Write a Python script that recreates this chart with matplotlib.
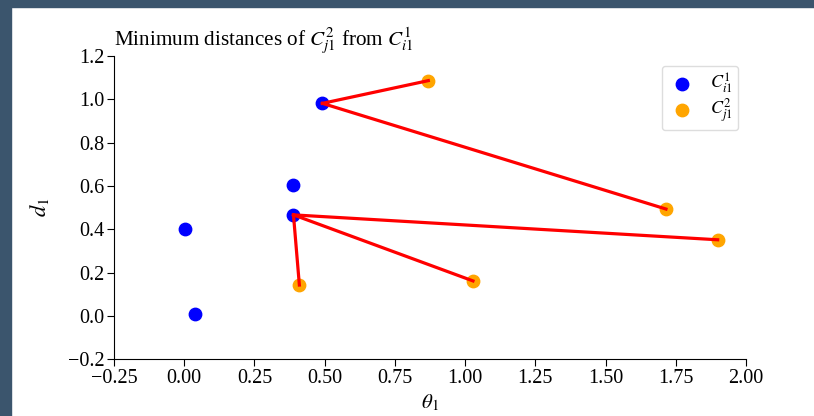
import matplotlib
matplotlib.use("Agg")
import matplotlib.pyplot as plt
from matplotlib.patches import Rectangle

# Datos: puntos de C_i1^1 (azul) y C_j1^2 (naranja)
c1_theta = [0.492, 0.389, 0.389, 0.004, 0.040]
c1_d = [0.982, 0.604, 0.467, 0.402, 0.008]

c2_theta = [0.869, 1.715, 1.899, 1.028, 0.410]
c2_d = [1.087, 0.494, 0.352, 0.162, 0.143]

# indice del punto de C1 mas cercano para cada punto de C2
nearest = [0, 0, 2, 2, 2]

x_ticks = [-0.25, 0.00, 0.25, 0.50, 0.75, 1.00, 1.25, 1.50, 1.75, 2.00]
y_ticks = [-0.2, 0.0, 0.2, 0.4, 0.6, 0.8, 1.0, 1.2]

plt.rcParams['font.family'] = ['Liberation Serif', 'DejaVu Serif']
plt.rcParams['mathtext.fontset'] = 'stix'
plt.rcParams['font.size'] = 14.5

fig = plt.figure(figsize=(8.14, 4.16), dpi=100)
ax = fig.add_axes([0.140, 0.1363, 0.7765, 0.7287])

# marco oscuro de la captura
fig.patches.append(Rectangle((0, 0), 11 / 814, 1, transform=fig.transFigure,
                             color='#3b556d', zorder=-10))
fig.patches.append(Rectangle((0, 1 - 7 / 416), 1, 7 / 416, transform=fig.transFigure,
                             color='#3b556d', zorder=-10))

ax.scatter(c1_theta, c1_d, s=80, color='blue', zorder=2, label=r'$C_{i1}^1$')
ax.scatter(c2_theta, c2_d, s=80, color='orange', zorder=2, label=r'$C_{j1}^2$')

for k in range(len(c2_theta)):
    i = nearest[k]
    ax.plot([c1_theta[i], c2_theta[k]], [c1_d[i], c2_d[k]],
            color='red', linewidth=2.3, zorder=3)

ax.set_xlim(-0.25, 2.00)
ax.set_ylim(-0.2, 1.2)
ax.set_xticks(x_ticks)
ax.set_yticks(y_ticks)
ax.set_xticklabels([f"{v:.2f}".replace('-', '\u2212') for v in x_ticks])
ax.set_yticklabels([f"{v:.1f}".replace('-', '\u2212') for v in y_ticks])

ax.spines['top'].set_visible(False)
ax.spines['right'].set_visible(False)
ax.tick_params(direction='out', length=5, pad=2)

ax.set_xlabel(r'$\theta_1$', labelpad=3, fontsize=15)
ax.set_ylabel(r'$d_1$', labelpad=12, fontsize=16)
ax.set_title(r'Minimum distances of $C_{j1}^2$ from $C_{i1}^1$', loc='left',
             pad=3, fontsize=15.2)

ax.legend(loc='upper right', bbox_to_anchor=(0.988, 0.968), borderaxespad=0,
          fontsize=13, borderpad=0.3, labelspacing=0.1, handlelength=1.6,
          framealpha=1, edgecolor='#dddddd')

fig.savefig('out.png', dpi=100)
